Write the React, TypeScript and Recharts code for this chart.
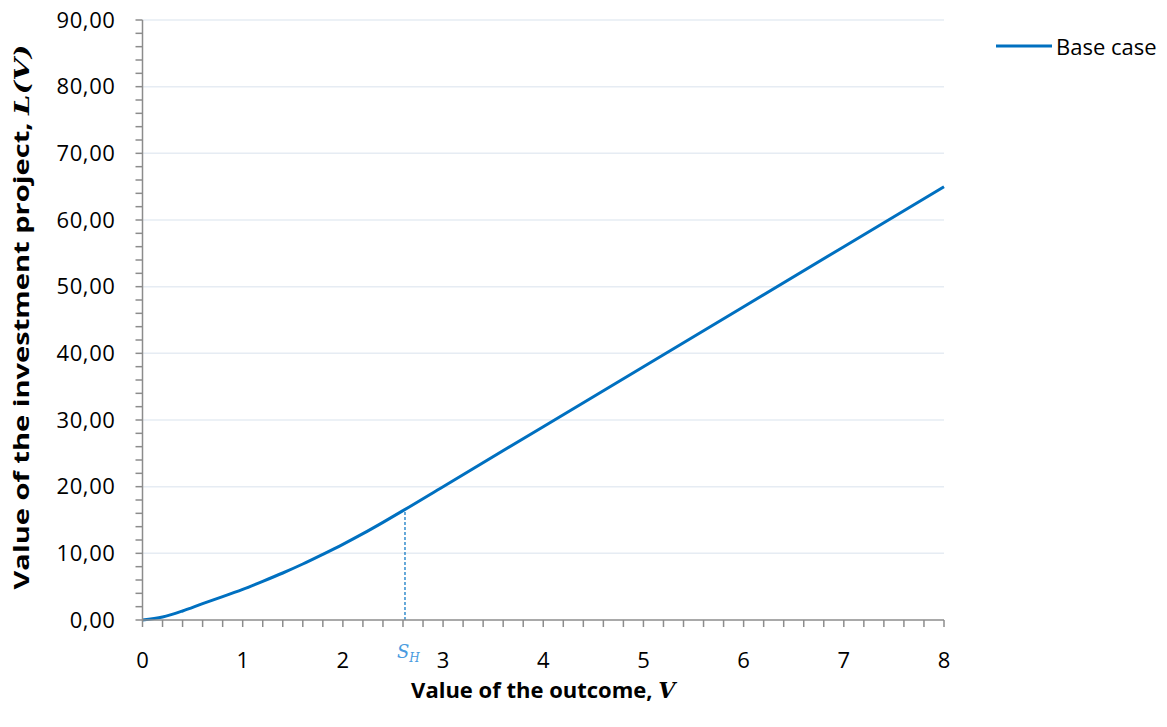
import { LineChart, Line, XAxis, YAxis, ReferenceLine } from "recharts";

// values
const outcome = [0, 0.2, 0.4, 0.6, 0.8, 1, 1.2, 1.4, 1.6, 1.8, 2, 2.2, 2.4, 2.6, 3, 4, 5, 6, 7, 8];
const baseCase = [0, 0.45, 1.35, 2.45, 3.5, 4.6, 5.8, 7.05, 8.4, 9.85, 11.35, 12.95, 14.65, 16.4, 20, 29, 38, 47, 56, 65];

const xMajorTicks = [0, 1, 2, 3, 4, 5, 6, 7, 8];
const yMajorTicks = [0, 10, 20, 30, 40, 50, 60, 70, 80, 90];
const minorParts = 5;

const thresholdV = 2.62;
const thresholdL = 16.55;

const seriesName = "Base case";
const lineColor = "#0070C0";
const axisColor = "#8c8c8c";
const gridColor = "#E6ECF3";
const font = "'Open Sans', sans-serif";

const data = outcome.map((v, i) => ({ v, base: baseCase[i] }));

// major ticks plus the minor marks between them
const withMinor = (majors: number[]) =>
  majors.flatMap((m, i) =>
    i === 0
      ? [m]
      : Array.from({ length: minorParts }, (_, k) => majors[i - 1] + ((m - majors[i - 1]) * (k + 1)) / minorParts)
  );

const isMajor = (val: number, majors: number[]) => majors.some((m) => Math.abs(m - val) < 1e-6);

const XTick = ({ x, y, payload }: any) =>
  isMajor(payload.value, xMajorTicks) ? (
    <text x={x} y={y} dy={39} textAnchor="middle" fontFamily={font} fontSize={22} fill="#000">
      {Math.round(payload.value)}
    </text>
  ) : null;

const YTick = ({ x, y, payload }: any) =>
  isMajor(payload.value, yMajorTicks) ? (
    <text
      x={x}
      y={y}
      dx={-18}
      dy={7.5}
      textAnchor="end"
      fontFamily={font}
      fontSize={22}
      letterSpacing={0.6}
      fill="#000"
    >
      {payload.value.toFixed(2).replace(".", ",")}
    </text>
  ) : null;

const XTitle = ({ viewBox }: any) => (
  <text
    x={viewBox.x + viewBox.width / 2}
    y={viewBox.y + 78}
    textAnchor="middle"
    fontFamily={font}
    fontWeight="bold"
    fontSize={22}
    fill="#000"
  >
    Value of the outcome,{" "}
    <tspan fontFamily="'DejaVu Serif', serif" fontStyle="italic">
      V
    </tspan>
  </text>
);

const YTitle = ({ viewBox }: any) => {
  const cx = viewBox.x + 29;
  const cy = viewBox.y + viewBox.height / 2 - 3;
  return (
    <text
      x={cx}
      y={cy}
      transform={`rotate(-90 ${cx} ${cy})`}
      textAnchor="middle"
      fontFamily={font}
      fontWeight="bold"
      fontSize={21}
      textLength={545}
      lengthAdjust="spacingAndGlyphs"
      fill="#000"
    >
      Value of the investment project,{" "}
      <tspan fontFamily="'DejaVu Serif', serif" fontStyle="italic">
        L(V)
      </tspan>
    </text>
  );
};

const ThresholdLabel = ({ viewBox }: any) => (
  <text
    x={viewBox.x - 8}
    y={viewBox.y + viewBox.height + 38}
    fontFamily="'DejaVu Serif', serif"
    fontStyle="italic"
    fontSize={18}
    fill="#4A9BE0"
  >
    S
    <tspan fontSize={12} dy={4}>
      H
    </tspan>
  </text>
);

export default function App() {
  return (
    <div style={{ position: "relative", width: 1167, height: 727 }}>
      <style>{"body{margin:0}"}</style>
      <LineChart width={1167} height={727} data={data} margin={{ top: 20, right: 223, bottom: 0, left: 0 }}>
        {yMajorTicks.slice(1).map((t) => (
          <ReferenceLine key={t} y={t} stroke={gridColor} strokeWidth={1.5} />
        ))}
        <XAxis
          type="number"
          dataKey="v"
          domain={[xMajorTicks[0], xMajorTicks[xMajorTicks.length - 1]]}
          ticks={withMinor(xMajorTicks)}
          interval={0}
          height={107}
          tickSize={7}
          stroke={axisColor}
          strokeWidth={1.5}
          tick={<XTick />}
          label={{ content: <XTitle /> }}
        />
        <YAxis
          type="number"
          domain={[yMajorTicks[0], yMajorTicks[yMajorTicks.length - 1]]}
          ticks={withMinor(yMajorTicks)}
          interval={0}
          width={142.5}
          tickSize={7}
          stroke={axisColor}
          strokeWidth={1.5}
          tick={<YTick />}
          label={{ content: <YTitle /> }}
        />
        <ReferenceLine
          segment={[
            { x: thresholdV, y: 0 },
            { x: thresholdV, y: thresholdL },
          ]}
          stroke={lineColor}
          strokeWidth={1.2}
          strokeDasharray="3 2"
          label={{ content: <ThresholdLabel /> }}
        />
        <Line
          type="monotone"
          dataKey="base"
          name={seriesName}
          stroke={lineColor}
          strokeWidth={3}
          dot={false}
          isAnimationActive={false}
        />
      </LineChart>
      {/* legend sits outside the plot, to the right */}
      <div
        style={{
          position: "absolute",
          left: 996,
          top: 31,
          display: "flex",
          alignItems: "center",
          fontFamily: font,
          fontSize: 22,
          color: "#000",
        }}
      >
        <svg width={56} height={10}>
          <line x1={0} y1={5} x2={56} y2={5} stroke={lineColor} strokeWidth={3} />
        </svg>
        <span style={{ marginLeft: 4 }}>{seriesName}</span>
      </div>
    </div>
  );
}
